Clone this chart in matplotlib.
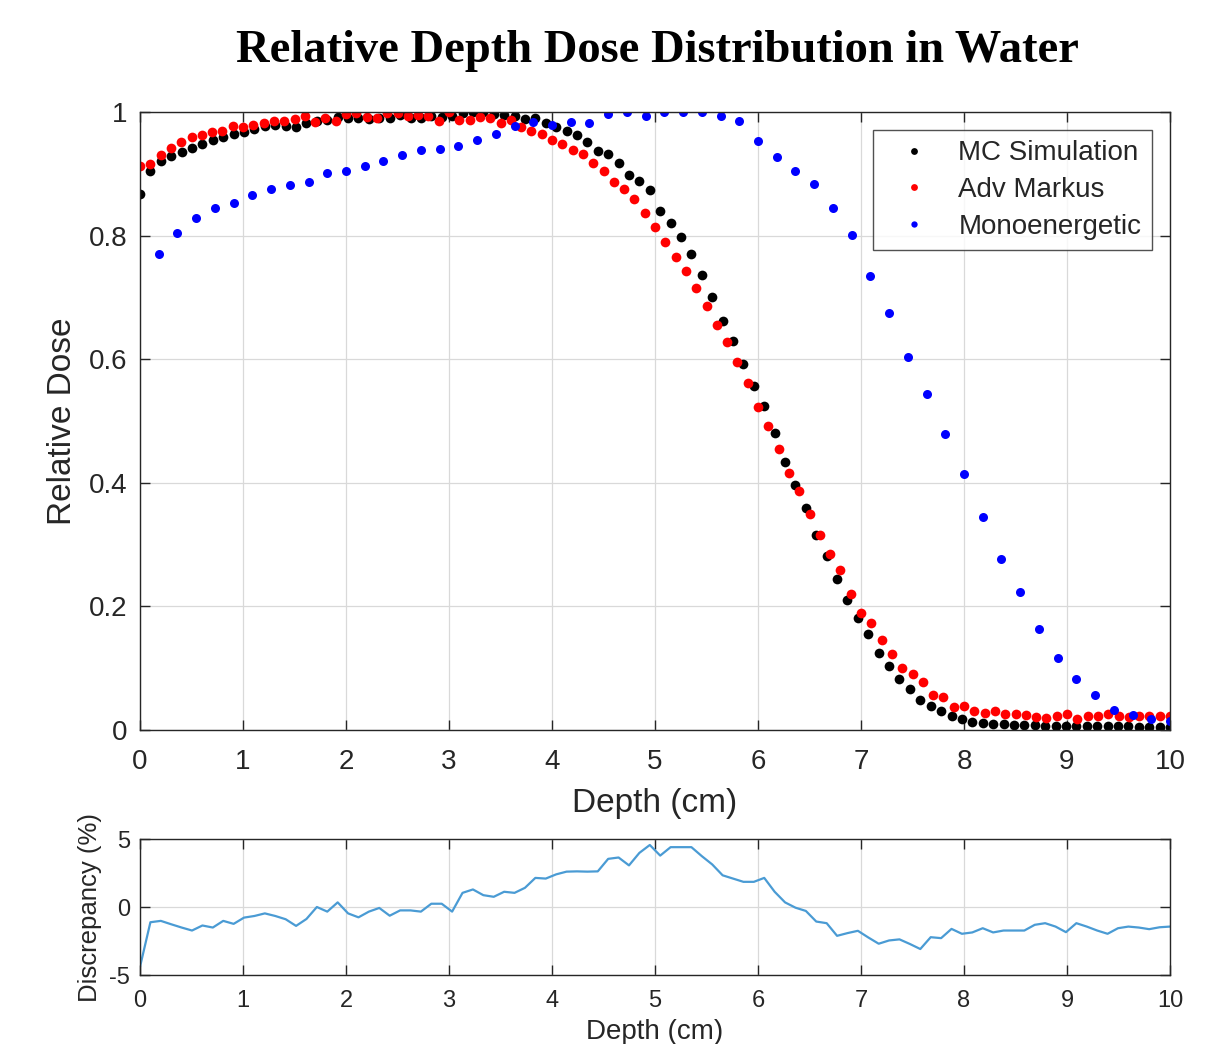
import matplotlib
matplotlib.use("Agg")
import matplotlib.pyplot as plt
import numpy as np

# depth grids (cm)
depth_mc = np.linspace(0, 10, 100)
depth_markus = np.linspace(0, 10, 101)
depth_mono = np.linspace(0, 10, 56)[1:]

mc_dose = [
    0.867, 0.905, 0.920, 0.928, 0.935, 0.941, 0.949, 0.954, 0.960, 0.965,
    0.968, 0.972, 0.977, 0.979, 0.977, 0.975, 0.983, 0.986, 0.987, 0.992,
    0.991, 0.990, 0.988, 0.991, 0.991, 0.995, 0.991, 0.991, 0.994, 0.992,
    0.994, 0.998, 1.000, 1.000, 0.997, 0.995, 0.994, 0.989, 0.990, 0.982,
    0.975, 0.969, 0.962, 0.951, 0.937, 0.932, 0.917, 0.898, 0.889, 0.873,
    0.839, 0.821, 0.797, 0.770, 0.736, 0.701, 0.662, 0.629, 0.593, 0.557,
    0.525, 0.480, 0.434, 0.396, 0.360, 0.315, 0.282, 0.245, 0.211, 0.181,
    0.155, 0.125, 0.104, 0.083, 0.066, 0.049, 0.039, 0.031, 0.023, 0.018,
    0.013, 0.011, 0.010, 0.009, 0.008, 0.008, 0.008, 0.007, 0.007, 0.007,
    0.007, 0.006, 0.006, 0.006, 0.006, 0.006, 0.005, 0.005, 0.005, 0.005,
]

markus_dose = [
    0.912, 0.916, 0.930, 0.941, 0.951, 0.959, 0.963, 0.968, 0.969, 0.978,
    0.976, 0.979, 0.982, 0.986, 0.986, 0.989, 0.994, 0.984, 0.991, 0.986,
    0.996, 0.999, 0.992, 0.990, 0.998, 0.998, 0.994, 0.995, 0.994, 0.986,
    1.000, 0.987, 0.987, 0.992, 0.991, 0.983, 0.987, 0.976, 0.970, 0.964,
    0.954, 0.948, 0.939, 0.932, 0.918, 0.905, 0.887, 0.875, 0.860, 0.837,
    0.814, 0.789, 0.766, 0.742, 0.715, 0.686, 0.655, 0.628, 0.595, 0.561,
    0.523, 0.492, 0.455, 0.416, 0.386, 0.350, 0.315, 0.284, 0.259, 0.220,
    0.190, 0.173, 0.145, 0.123, 0.101, 0.091, 0.077, 0.057, 0.053, 0.037,
    0.039, 0.031, 0.027, 0.030, 0.026, 0.026, 0.025, 0.021, 0.019, 0.023,
    0.026, 0.018, 0.022, 0.023, 0.026, 0.022, 0.021, 0.022, 0.023, 0.023,
    0.022,
]

mono_dose = [
    0.770, 0.805, 0.828, 0.844, 0.853, 0.865, 0.876, 0.882, 0.887, 0.901,
    0.905, 0.912, 0.920, 0.930, 0.939, 0.940, 0.945, 0.954, 0.964, 0.977,
    0.984, 0.979, 0.984, 0.983, 0.997, 1.000, 0.994, 1.000, 1.000, 1.000,
    0.994, 0.986, 0.953, 0.927, 0.905, 0.883, 0.844, 0.801, 0.735, 0.675,
    0.604, 0.543, 0.479, 0.414, 0.345, 0.276, 0.223, 0.163, 0.117, 0.083,
    0.056, 0.033, 0.024, 0.017, 0.015,
]

discrepancy = [
    -4.40, -1.12, -1.02, -1.27, -1.51, -1.73, -1.36, -1.51, -1.02, -1.24,
    -0.78, -0.66, -0.47, -0.66, -0.90, -1.39, -0.88, 0.00, -0.34, 0.34,
    -0.47, -0.76, -0.34, -0.07, -0.64, -0.25, -0.25, -0.34, 0.24, 0.24,
    -0.34, 1.04, 1.29, 0.87, 0.75, 1.12, 1.04, 1.41, 2.14, 2.09,
    2.40, 2.60, 2.62, 2.60, 2.62, 3.54, 3.64, 3.06, 3.98, 4.56,
    3.78, 4.40, 4.40, 4.40, 3.74, 3.13, 2.33, 2.09, 1.85, 1.85,
    2.14, 1.12, 0.34, -0.05, -0.29, -1.07, -1.19, -2.12, -1.92, -1.75,
    -2.24, -2.70, -2.46, -2.38, -2.72, -3.09, -2.22, -2.29, -1.61, -1.97,
    -1.87, -1.56, -1.87, -1.73, -1.73, -1.73, -1.31, -1.19, -1.44, -1.85,
    -1.19, -1.44, -1.73, -1.97, -1.56, -1.44, -1.51, -1.63, -1.49, -1.44,
]

SANS = ["Liberation Sans", "DejaVu Sans"]
EDGE = "#262626"

plt.rcParams["font.family"] = SANS
plt.rcParams["axes.unicode_minus"] = False


def _style(ax, tick_size):
    for side in ax.spines.values():
        side.set_color(EDGE)
        side.set_linewidth(1.0)
    ax.tick_params(direction="in", top=True, right=True, length=7,
                   width=1.0, color=EDGE, labelcolor=EDGE,
                   labelsize=tick_size)
    ax.grid(True, color="#d9d9d9", linewidth=0.9)
    ax.set_axisbelow(True)


fig = plt.figure(figsize=(12.11, 10.44), dpi=100)

# main depth dose panel
ax = fig.add_axes([140 / 1211, 1 - 730 / 1044, 1030 / 1211, 618 / 1044])
ax.plot(depth_mc, mc_dose, "o", color="black", markersize=7,
        markeredgewidth=0, label="MC Simulation")
ax.plot(depth_markus, markus_dose, "o", color="red", markersize=7,
        markeredgewidth=0, label="Adv Markus")
ax.plot(depth_mono, mono_dose, "o", color="blue", markersize=6.5,
        markeredgewidth=0, label="Monoenergetic")
ax.set_xlim(0, 10)
ax.set_ylim(0, 1)
ax.set_xticks(range(0, 11))
ax.set_yticks([0, 0.2, 0.4, 0.6, 0.8, 1])
ax.set_yticklabels(["0", "0.2", "0.4", "0.6", "0.8", "1"])
_style(ax, 20)
ax.tick_params(axis="x", pad=14)
ax.tick_params(axis="y", pad=9)
ax.set_xlabel("Depth (cm)", fontsize=24, color=EDGE, labelpad=9)
ax.set_ylabel("Relative Dose", fontsize=24, color=EDGE, labelpad=8)

leg = ax.legend(loc="upper right", bbox_to_anchor=(0.9825, 0.971),
                fontsize=20, markerscale=0.7, frameon=True, fancybox=False,
                borderpad=0.38, labelspacing=0.38, handletextpad=0.5,
                handlelength=2.2, borderaxespad=0)
leg.get_frame().set_edgecolor(EDGE)
leg.get_frame().set_linewidth(1.0)
for t in leg.get_texts():
    t.set_color(EDGE)

# discrepancy panel
ax2 = fig.add_axes([140 / 1211, 1 - 975 / 1044, 1030 / 1211, 136 / 1044])
ax2.plot(depth_mc, discrepancy, color="#4a9bd4", linewidth=1.6)
ax2.set_xlim(0, 10)
ax2.set_ylim(-5, 5)
ax2.set_xticks(range(0, 11))
ax2.set_yticks([-5, 0, 5])
_style(ax2, 17)
ax2.tick_params(axis="x", pad=11)
ax2.tick_params(axis="y", pad=7)
ax2.set_xlabel("Depth (cm)", fontsize=20, color=EDGE, labelpad=5)
ax2.set_ylabel("Discrepancy (%)", fontsize=18.5, color=EDGE, labelpad=5)

fig.text(657 / 1211, 1 - 51 / 1044,
         "Relative Depth Dose Distribution in Water",
         ha="center", va="center", fontsize=33.5, fontweight="bold",
         family=["Liberation Serif", "DejaVu Serif"])

fig.savefig("out.png", dpi=100)
